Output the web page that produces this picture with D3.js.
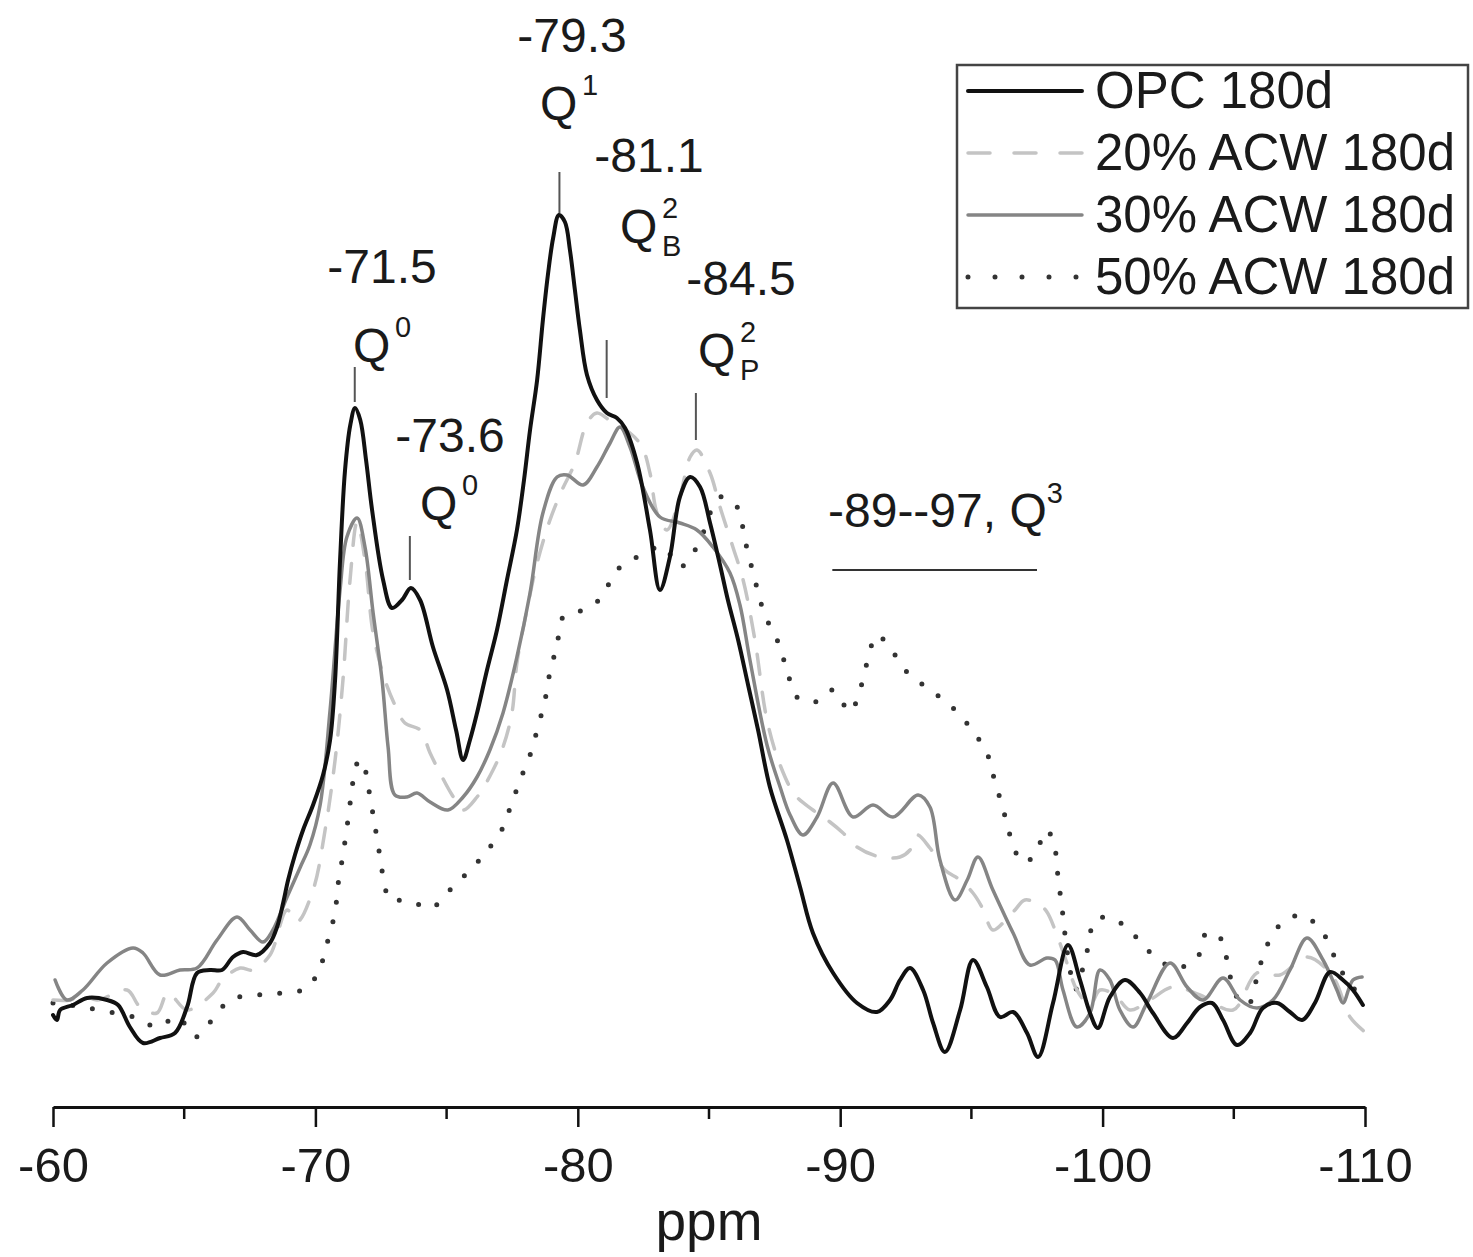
<!DOCTYPE html>
<html>
<head>
<meta charset="utf-8">
<script src="https://cdn.jsdelivr.net/npm/d3@7"></script>
<style>
  body { margin: 0; background: #fff; }
  svg text { font-family: "Liberation Sans", Arial, sans-serif; fill: #1a1a1a; }
</style>
</head>
<body>
<div id="chart"></div>
<script>
// 29Si NMR spectra, 180 days (intensity in arbitrary units)
const opcPpm = [-60.00,-60.15,-60.27,-60.76,-61.30,-62.06,-62.48,-62.93,-63.43,-64.08,-64.65,-65.11,-65.49,-65.98,-66.44,-66.86,-67.24,-67.77,-68.27,-68.54,-68.77,-68.96,-69.22,-69.53,-69.91,-70.29,-70.56,-70.75,-70.94,-71.13,-71.33,-71.51,-71.71,-71.93,-72.16,-72.58,-72.92,-73.30,-73.64,-73.99,-74.48,-75.02,-75.36,-75.63,-75.89,-76.16,-76.54,-76.92,-77.30,-77.68,-77.95,-78.18,-78.45,-78.67,-78.86,-79.06,-79.28,-79.51,-79.70,-79.89,-80.08,-80.35,-80.73,-81.11,-81.49,-81.80,-82.26,-82.75,-83.13,-83.51,-83.89,-84.28,-84.66,-85.04,-85.42,-85.72,-86.11,-86.49,-86.87,-87.32,-87.97,-88.47,-88.96,-89.73,-90.64,-91.40,-91.90,-92.28,-92.66,-93.16,-93.54,-93.99,-94.57,-95.06,-95.59,-96.09,-96.59,-97.12,-97.54,-98.11,-98.68,-99.14,-99.52,-99.82,-100.28,-100.85,-101.43,-101.92,-102.68,-103.22,-103.71,-104.17,-104.59,-105.12,-105.62,-106.11,-106.65,-107.14,-107.60,-108.09,-108.67,-109.16,-109.54,-109.92];
const opcInt = [8.5,8.0,9.0,9.5,10.2,10.0,9.5,7.3,5.7,6.2,6.7,9.3,12.7,13.0,13.0,14.3,14.8,14.5,15.7,17.3,19.7,22.0,24.5,27.0,29.5,32.5,36.0,42.0,54.0,63.0,67.5,69.2,68.0,64.0,59.0,52.0,49.2,50.0,51.2,50.0,45.3,41.0,37.0,34.0,36.0,38.7,43.0,47.0,52.0,57.0,62.0,67.0,72.0,78.0,82.5,86.2,88.5,87.8,85.0,81.0,77.0,72.5,70.0,68.7,68.2,67.2,63.7,57.0,51.0,54.3,60.3,62.3,61.3,57.7,53.5,50.0,46.0,41.5,37.0,31.3,26.0,21.3,16.7,12.7,9.7,8.8,10.0,12.0,13.2,11.0,7.7,4.8,9.0,14.0,11.3,8.3,8.8,6.7,4.3,9.7,15.5,12.0,8.7,7.2,10.3,12.0,10.7,8.7,6.2,7.7,9.3,9.7,8.0,5.5,6.7,9.2,9.7,8.8,8.0,9.7,12.8,12.0,11.0,9.5];

const acw20Ppm = [-60.00,-60.65,-61.14,-61.68,-62.82,-63.32,-63.96,-64.38,-65.11,-66.10,-66.44,-67.13,-67.62,-68.27,-68.92,-69.30,-69.91,-70.37,-70.75,-71.05,-71.32,-71.59,-71.89,-72.20,-72.65,-73.03,-73.41,-73.99,-74.37,-74.75,-75.21,-75.63,-76.16,-76.77,-77.15,-77.49,-77.68,-78.06,-78.45,-78.94,-79.40,-79.89,-80.35,-80.73,-81.34,-81.99,-82.45,-82.75,-83.02,-83.40,-83.89,-84.28,-84.54,-85.04,-85.42,-85.91,-86.30,-86.75,-87.21,-87.71,-88.28,-88.96,-89.61,-90.11,-90.64,-91.52,-92.28,-92.66,-92.93,-93.42,-93.99,-94.57,-95.06,-95.40,-95.82,-96.20,-96.66,-97.04,-97.61,-97.88,-98.19,-98.64,-99.02,-99.52,-99.90,-100.47,-101.04,-101.80,-102.68,-103.71,-104.97,-105.88,-106.76,-107.79,-108.78,-109.43,-110.00];
const acw20Int = [10.0,10.0,10.5,10.0,11.0,9.3,8.7,10.7,9.0,10.7,12.0,13.2,13.0,14.5,19.0,17.8,21.0,27.0,34.0,42.0,52.0,57.8,54.0,46.7,42.0,39.5,37.7,37.0,34.7,32.7,30.5,29.0,30.3,33.0,35.3,38.7,43.7,49.0,53.7,58.0,61.0,63.7,67.7,68.7,67.7,66.7,65.3,62.7,58.7,57.0,60.3,64.3,65.0,62.7,59.3,55.3,52.0,46.0,38.0,33.5,30.5,29.0,27.8,26.7,25.3,24.3,24.3,25.0,26.5,25.2,23.0,22.0,20.7,19.3,17.0,17.7,19.0,20.0,19.5,18.8,17.0,13.7,11.0,9.5,11.0,10.5,9.0,10.0,11.3,10.5,9.0,12.7,12.5,14.3,12.3,8.3,6.8];

const acw30Ppm = [-60.08,-60.53,-61.14,-62.06,-63.05,-63.43,-64.08,-64.84,-65.49,-66.25,-67.01,-67.51,-68.00,-68.38,-68.92,-69.41,-69.79,-70.18,-70.56,-70.94,-71.20,-71.59,-71.89,-72.20,-72.54,-72.77,-73.03,-73.49,-73.87,-74.37,-75.05,-75.63,-76.16,-76.65,-77.15,-77.68,-78.18,-78.67,-79.21,-79.59,-80.20,-80.73,-81.23,-81.61,-81.99,-82.48,-83.13,-83.89,-84.54,-85.15,-85.80,-86.18,-86.56,-87.21,-87.71,-88.09,-88.58,-89.12,-89.73,-90.49,-91.25,-92.01,-92.97,-93.42,-93.80,-94.38,-94.84,-95.25,-95.82,-96.59,-97.23,-97.88,-98.19,-98.49,-99.02,-99.52,-99.90,-100.28,-100.66,-101.16,-101.69,-102.57,-103.22,-103.83,-104.59,-105.24,-105.88,-106.49,-107.14,-107.79,-108.40,-108.93,-109.16,-109.54,-109.89];
const acw30Int = [12.0,10.0,11.0,13.7,15.2,14.7,12.5,13.0,13.2,16.0,18.3,17.0,15.8,17.0,20.3,23.2,25.5,29.5,39.0,51.0,56.3,58.2,55.3,48.7,42.0,35.3,30.5,30.3,30.7,29.8,29.0,30.3,32.3,35.0,38.7,44.3,50.7,58.7,62.3,62.5,61.5,63.3,65.7,67.3,65.3,61.3,58.3,57.7,57.0,55.3,52.7,49.5,44.0,35.5,31.3,28.5,26.5,28.3,31.7,28.3,29.5,28.3,30.5,29.3,24.0,20.0,22.0,24.3,21.0,16.7,13.5,14.2,14.0,11.0,7.3,8.7,13.0,12.0,9.0,7.3,9.7,13.7,11.3,10.0,12.2,10.0,9.2,10.0,13.0,16.2,14.0,11.0,9.7,12.0,12.3];

const acw50Ppm = [-60.00,-60.65,-61.33,-62.17,-63.20,-63.96,-64.76,-65.41,-66.06,-66.75,-67.77,-68.73,-69.68,-70.18,-70.48,-70.75,-70.86,-71.05,-71.24,-71.39,-71.55,-71.78,-72.00,-72.20,-72.39,-72.61,-72.84,-73.41,-73.99,-74.44,-74.94,-75.51,-76.08,-76.46,-77.04,-77.42,-77.80,-78.18,-78.48,-78.75,-78.94,-79.21,-79.44,-80.20,-80.92,-81.42,-82.26,-83.25,-83.89,-84.54,-85.42,-86.07,-86.37,-86.75,-87.13,-87.63,-87.97,-88.35,-89.04,-89.73,-90.37,-90.75,-91.02,-91.40,-91.90,-92.58,-93.54,-94.38,-95.02,-95.59,-95.90,-96.20,-96.47,-96.93,-97.35,-97.88,-98.19,-98.30,-98.45,-98.57,-98.72,-98.95,-99.44,-99.71,-100.36,-101.12,-101.92,-102.76,-103.60,-103.98,-104.55,-104.78,-105.12,-105.54,-105.88,-106.19,-106.76,-107.60,-108.40,-108.86,-109.31,-109.81];
const acw50Int = [9.7,9.5,9.2,8.8,8.2,7.3,8.3,6.3,8.0,10.0,10.5,10.7,11.2,13.3,16.0,18.8,21.5,24.5,28.0,31.0,33.5,34.0,31.5,28.5,25.5,22.0,20.0,20.0,19.5,19.2,20.5,22.0,23.5,24.7,26.7,29.2,32.0,34.5,37.3,40.0,42.8,45.5,48.3,49.0,50.3,52.8,54.3,55.3,53.3,55.3,60.3,59.3,56.0,52.0,48.5,45.8,43.0,40.3,39.8,41.0,38.8,41.0,43.7,46.5,45.2,42.7,40.8,39.0,37.0,34.7,31.8,29.2,26.5,23.8,24.3,27.0,25.0,22.3,19.3,16.5,13.7,11.0,15.2,18.0,18.2,16.7,14.5,13.2,14.2,16.8,16.0,13.3,10.3,9.5,12.2,15.0,17.5,18.5,16.7,14.2,12.0,10.5];

const seriesNames = ["OPC 180d", "20% ACW 180d", "30% ACW 180d", "50% ACW 180d"];
const xTicks = [-60, -70, -80, -90, -100, -110];

// peak assignments: shift, species, superscript, subscript
const peakShift = [-71.5, -73.6, -79.3, -81.1, -84.5];
const peakQ = ["0", "0", "1", "2", "2"];
const peakSub = ["", "", "", "B", "P"];

const W = 1473, H = 1257;
const svg = d3.select('#chart').append('svg')
    .attr('width', W)
    .attr('height', H)
    .style('background', '#fff');

const x = d3.scaleLinear().domain([-60, -110]).range([53, 1365]);
const y = d3.scaleLinear().domain([0, 100]).range([1100, 100]);

// x axis
const axisY = 1107;
const axis = d3.axisBottom(x)
    .tickValues(xTicks)
    .tickSize(20)
    .tickSizeOuter(0)
    .tickFormat(d => String(d));
const gAxis = svg.append('g')
    .attr('transform', `translate(0,${axisY})`)
    .call(axis);
gAxis.select('.domain').attr('stroke', '#111').attr('stroke-width', 3);
gAxis.selectAll('.tick line').attr('stroke', '#111').attr('stroke-width', 2.5);
gAxis.selectAll('.tick text')
    .attr('y', 40)
    .attr('dy', '0.71em')
    .style('font-size', '49px')
    .style('font-family', '"Liberation Sans", Arial, sans-serif')
    .attr('fill', '#1a1a1a');
// minor ticks
gAxis.selectAll('.minor')
    .data(d3.range(-65, -110, -10))
    .enter().append('line')
    .attr('class', 'minor')
    .attr('x1', d => x(d)).attr('x2', d => x(d))
    .attr('y1', 0).attr('y2', 12)
    .attr('stroke', '#111').attr('stroke-width', 2.5);

svg.append('text')
    .attr('x', x(-85))
    .attr('y', 1240)
    .attr('text-anchor', 'middle')
    .style('font-size', '55px')
    .text('ppm');

// spectra
const series = [
    { name: seriesNames[0], ppm: opcPpm, val: opcInt, color: '#111', width: 4, dash: null },
    { name: seriesNames[1], ppm: acw20Ppm, val: acw20Int, color: '#c4c4c4', width: 3.5, dash: '20,18' },
    { name: seriesNames[2], ppm: acw30Ppm, val: acw30Int, color: '#858585', width: 3.5, dash: null },
    { name: seriesNames[3], ppm: acw50Ppm, val: acw50Int, color: '#333', width: 5, dash: '0,20' }
];

const line = d3.line()
    .x(d => x(d[0]))
    .y(d => y(d[1]))
    .curve(d3.curveCatmullRom.alpha(0.5));

// draw order: light ones first, black on top
[3, 1, 2, 0].forEach(i => {
    const s = series[i];
    svg.append('path')
        .datum(d3.zip(s.ppm, s.val))
        .attr('d', line)
        .attr('fill', 'none')
        .attr('stroke', s.color)
        .attr('stroke-width', s.width)
        .attr('stroke-linecap', 'round')
        .attr('stroke-linejoin', 'round')
        .attr('stroke-dasharray', s.dash);
});

// peak labels
const labelTop = [283, 452, 52, 172, 295];     // baseline of the shift text
const qBase = [362, 520, 120, 243, 367];       // baseline of Q
const qLeft = [353, 420, 540, 620, 698];
const markTop = [367, 536, 172, 340, 393];
const markBottom = [402, 580, 213, 398, 440];
const labelMid = [382, 450, 572, 649, 741];

peakShift.forEach((p, i) => {
    svg.append('line')
        .attr('x1', x(p)).attr('x2', x(p))
        .attr('y1', markTop[i]).attr('y2', markBottom[i])
        .attr('stroke', '#555').attr('stroke-width', 2);
    svg.append('text')
        .attr('x', labelMid[i]).attr('y', labelTop[i])
        .attr('text-anchor', 'middle')
        .style('font-size', '48px')
        .text(p.toFixed(1));
    svg.append('text')
        .attr('x', qLeft[i]).attr('y', qBase[i])
        .style('font-size', '48px')
        .text('Q');
    svg.append('text')
        .attr('x', qLeft[i] + 42).attr('y', qBase[i] - 25)
        .style('font-size', '29px')
        .text(peakQ[i]);
    if (peakSub[i]) {
        svg.append('text')
            .attr('x', qLeft[i] + 42).attr('y', qBase[i] + 13)
            .style('font-size', '29px')
            .text(peakSub[i]);
    }
});

// Q3 range
const q3 = svg.append('text')
    .attr('x', 828).attr('y', 527)
    .style('font-size', '48px')
    .text('-89--97, Q');
q3.append('tspan')
    .attr('dy', -24)
    .style('font-size', '29px')
    .text('3');
svg.append('line')
    .attr('x1', x(-89.7)).attr('x2', x(-97.5))
    .attr('y1', 570).attr('y2', 570)
    .attr('stroke', '#333').attr('stroke-width', 2);

// legend
const lg = svg.append('g');
lg.append('rect')
    .attr('x', 957).attr('y', 65)
    .attr('width', 511).attr('height', 243)
    .attr('fill', '#fff')
    .attr('stroke', '#444')
    .attr('stroke-width', 2.5);

series.forEach((s, i) => {
    const by = 108 + i * 62;
    lg.append('line')
        .attr('x1', 968).attr('x2', 1082)
        .attr('y1', by - 17).attr('y2', by - 17)
        .attr('stroke', s.color)
        .attr('stroke-width', s.width)
        .attr('stroke-linecap', 'round')
        .attr('stroke-dasharray', s.dash === '0,20' ? '0,27' : (s.dash ? '22,24' : null));
    lg.append('text')
        .attr('x', 1095).attr('y', by)
        .style('font-size', '51px')
        .text(s.name);
});
</script>
</body>
</html>
